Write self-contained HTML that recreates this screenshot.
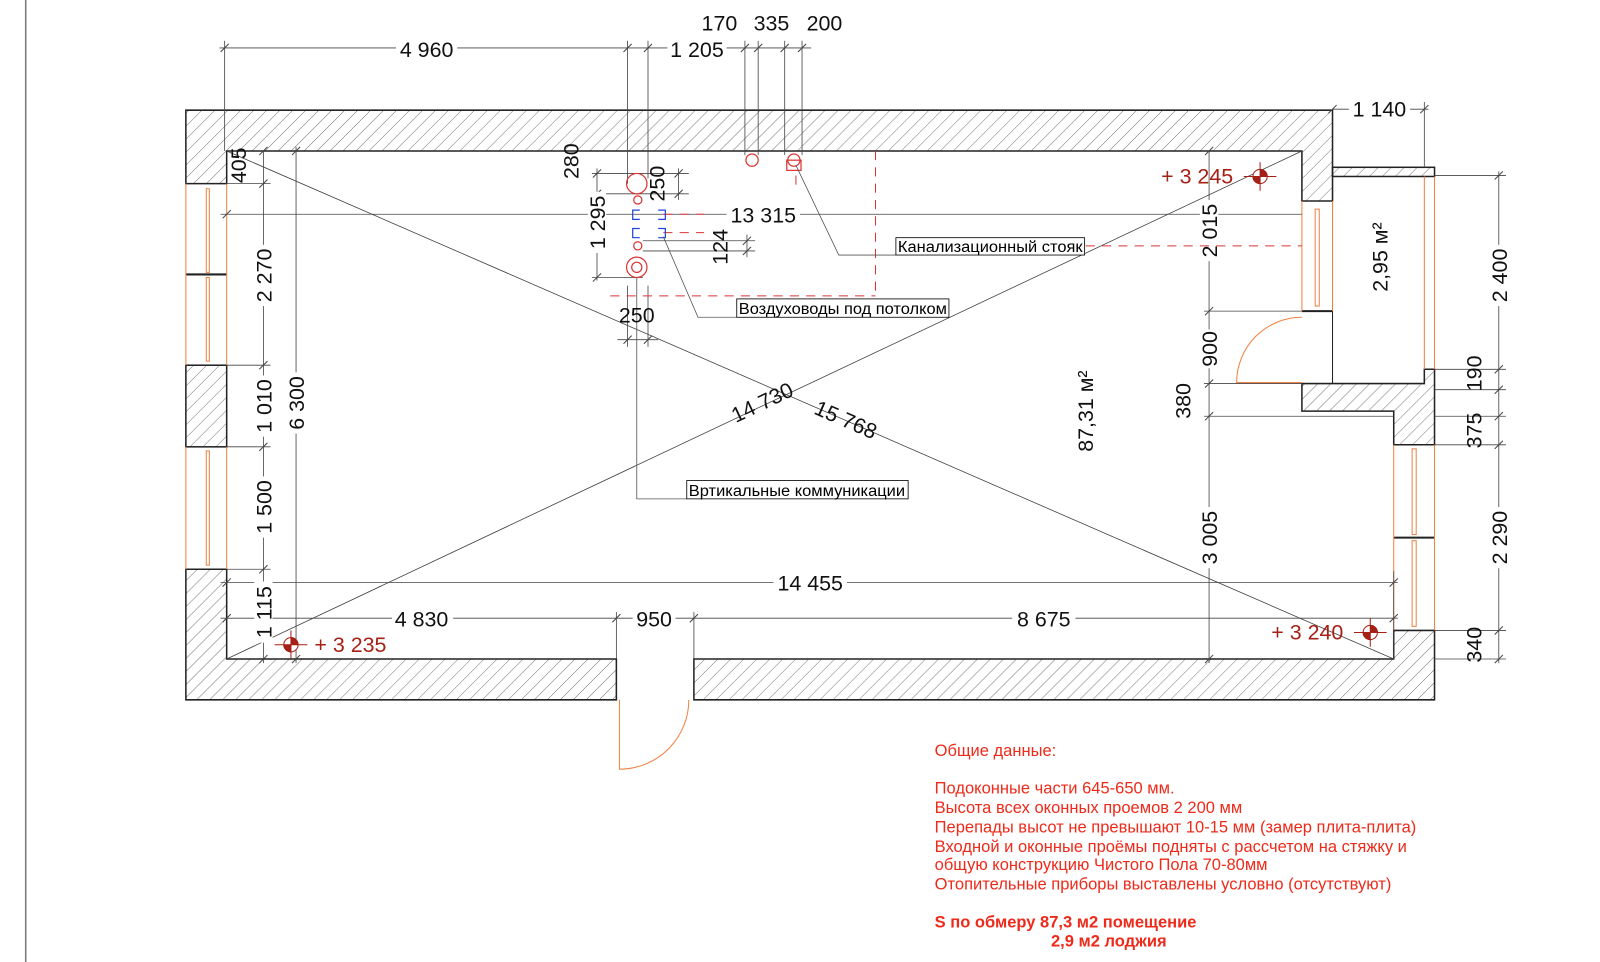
<!DOCTYPE html>
<html><head><meta charset="utf-8"><style>html,body{margin:0;padding:0;background:#fff}svg{display:block}</style></head>
<body>
<svg width="1600" height="962" viewBox="0 0 1568 943" xmlns="http://www.w3.org/2000/svg" font-family="Liberation Sans, sans-serif">
<defs>
<pattern id="h" patternUnits="userSpaceOnUse" width="9" height="9" patternTransform="rotate(45)"><line x1="0" y1="0" x2="0" y2="9" stroke="#555" stroke-width="0.8"/></pattern>
</defs>
<rect width="1568" height="943" fill="#fff"/>
<line x1="25" y1="0" x2="25" y2="943" stroke="#777" stroke-width="1.5"/>

<!-- walls -->
<g fill="url(#h)" stroke="#222" stroke-width="1.5">
<path d="M182,180 L182,108 L1306,108 L1306,197 L1276,197 L1276,148 L222,148 L222,180 Z"/>
<rect x="182" y="358" width="40" height="80"/>
<path d="M182,558 L222,558 L222,646 L604,646 L604,686 L182,686 Z"/>
<path d="M680,646 L1366,646 L1366,618 L1406,618 L1406,686 L680,686 Z"/>
<path d="M1276,376 L1396,376 L1396,362 L1406,362 L1406,436 L1366,436 L1366,403 L1276,403 Z"/>
<rect x="1306" y="164" width="100" height="9"/>
</g>
<line x1="1306" y1="173" x2="1306" y2="376" stroke="#222" stroke-width="1"/>
<line x1="182" y1="269" x2="222" y2="269" stroke="#222" stroke-width="2"/>
<line x1="1276" y1="305" x2="1306" y2="305" stroke="#222" stroke-width="2"/>
<line x1="1366" y1="527" x2="1406" y2="527" stroke="#222" stroke-width="2"/>

<!-- windows -->
<g stroke="#f08040" stroke-width="1" fill="none">
<line x1="182" y1="180" x2="182" y2="358"/><line x1="222" y1="180" x2="222" y2="358"/>
<rect x="202" y="185" width="3" height="82"/><rect x="202" y="272" width="3" height="82"/>
<line x1="182" y1="438" x2="182" y2="558"/><line x1="222" y1="438" x2="222" y2="558"/>
<rect x="202" y="442" width="3" height="112"/>
<line x1="1276" y1="197" x2="1276" y2="305"/><line x1="1306" y1="197" x2="1306" y2="305"/>
<rect x="1289" y="205" width="4" height="95"/>
<line x1="1396" y1="173" x2="1396" y2="362"/><line x1="1406" y1="173" x2="1406" y2="362"/>
<line x1="1366" y1="436" x2="1366" y2="618"/><line x1="1406" y1="436" x2="1406" y2="618"/>
<rect x="1384" y="440" width="4" height="84"/><rect x="1384" y="530" width="4" height="84"/>
<path d="M607,686 L607,754 A68,68 0 0 0 675,686"/>
<path d="M1276,375 L1212,375 A64,64 0 0 1 1276,311"/>
</g>

<!-- dimension lines -->
<g stroke="#444" stroke-width="0.8" fill="none">
<line x1="215" y1="47" x2="795" y2="47"/>
<line x1="220" y1="40" x2="220" y2="148"/><line x1="615" y1="40" x2="615" y2="180"/><line x1="635" y1="40" x2="635" y2="175"/>
<line x1="730" y1="40" x2="730" y2="152"/><line x1="743" y1="40" x2="743" y2="152"/><line x1="769" y1="40" x2="769" y2="152"/><line x1="786" y1="40" x2="786" y2="152"/>
<line x1="1306" y1="107" x2="1400" y2="107"/><line x1="1396" y1="100" x2="1396" y2="164"/>
<line x1="1469" y1="168" x2="1469" y2="650"/>
<line x1="1406" y1="172" x2="1476" y2="172"/><line x1="1406" y1="362" x2="1476" y2="362"/><line x1="1406" y1="382" x2="1476" y2="382"/>
<line x1="1406" y1="408" x2="1476" y2="408"/><line x1="1406" y1="436" x2="1476" y2="436"/><line x1="1406" y1="618" x2="1476" y2="618"/><line x1="1406" y1="646" x2="1476" y2="646"/>
<line x1="1185" y1="148" x2="1185" y2="650"/>
<line x1="1180" y1="305" x2="1276" y2="305"/><line x1="1180" y1="376" x2="1276" y2="376"/><line x1="1180" y1="408" x2="1366" y2="408"/>
<line x1="258" y1="148" x2="258" y2="650"/><line x1="290" y1="144" x2="290" y2="650"/>
<line x1="222" y1="180" x2="265" y2="180"/><line x1="222" y1="358" x2="265" y2="358"/><line x1="222" y1="438" x2="265" y2="438"/><line x1="222" y1="558" x2="265" y2="558"/>
<line x1="216" y1="210" x2="1276" y2="210"/>
<line x1="216" y1="571" x2="1370" y2="571"/>
<line x1="216" y1="606" x2="1370" y2="606"/><line x1="604" y1="600" x2="604" y2="646"/><line x1="680" y1="600" x2="680" y2="646"/><line x1="1366" y1="560" x2="1366" y2="646"/>
<line x1="585" y1="165" x2="585" y2="275"/>
<line x1="580" y1="170" x2="675" y2="170"/><line x1="580" y1="190" x2="675" y2="190"/>
<line x1="665" y1="165" x2="665" y2="196"/>
<line x1="580" y1="272" x2="630" y2="272"/>
<line x1="630" y1="236" x2="740" y2="236"/><line x1="630" y1="246" x2="740" y2="246"/><line x1="732" y1="230" x2="732" y2="252"/>
<line x1="615" y1="280" x2="615" y2="340"/><line x1="635" y1="280" x2="635" y2="340"/><line x1="605" y1="333" x2="645" y2="333"/>
<line x1="222" y1="148" x2="1366" y2="646"/>
<line x1="222" y1="646" x2="1276" y2="148"/>
</g>
<g stroke="#444" stroke-width="1">
<path d="M216,51 l8,-8 M611,51 l8,-8 M631,51 l8,-8 M726,51 l8,-8 M739,51 l8,-8 M765,51 l8,-8 M782,51 l8,-8 M1302,111 l8,-8 M1392,111 l8,-8
M1465,176 l8,-8 M1465,366 l8,-8 M1465,386 l8,-8 M1465,412 l8,-8 M1465,440 l8,-8 M1465,622 l8,-8 M1465,650 l8,-8
M1181,152 l8,-8 M1181,309 l8,-8 M1181,380 l8,-8 M1181,412 l8,-8 M1181,650 l8,-8
M254,184 l8,-8 M254,362 l8,-8 M254,442 l8,-8 M254,562 l8,-8 M254,650 l8,-8 M286,152 l8,-8 M286,650 l8,-8 M254,152 l8,-8
M218,214 l8,-8 M218,575 l8,-8 M1362,575 l8,-8 M218,610 l8,-8 M600,610 l8,-8 M676,610 l8,-8 M1362,610 l8,-8
M581,174 l8,-8 M581,194 l8,-8 M581,276 l8,-8 M661,174 l8,-8 M661,194 l8,-8 M728,240 l8,-8 M728,250 l8,-8 M611,337 l8,-8 M631,337 l8,-8"/>
</g>

<!-- white backgrounds behind dimension labels -->
<g fill="#fff">
<rect x="388" y="38" width="60" height="18"/><rect x="654" y="38" width="58" height="18"/>
<rect x="1322" y="98" width="60" height="18"/><rect x="712" y="201" width="72" height="18"/>
<rect x="758" y="562" width="72" height="18"/><rect x="384" y="597" width="60" height="18"/>
<rect x="620" y="597" width="42" height="18"/><rect x="992" y="597" width="62" height="18"/>
<rect x="1460" y="240" width="18" height="60"/><rect x="1460" y="497" width="18" height="60"/>
<rect x="1176" y="196" width="18" height="60"/><rect x="1176" y="323" width="18" height="38"/>
<rect x="1176" y="497" width="18" height="60"/>
<rect x="249" y="240" width="18" height="60"/><rect x="249" y="368" width="18" height="60"/>
<rect x="249" y="467" width="18" height="60"/><rect x="249" y="570" width="18" height="60"/>
<rect x="281" y="365" width="18" height="60"/><rect x="576" y="188" width="18" height="60"/>
</g>

<!-- communications -->
<g fill="none" stroke="#d33" stroke-width="1.2">
<circle cx="624" cy="180" r="10"/><circle cx="625" cy="196" r="4"/><circle cx="625" cy="241" r="4"/>
<circle cx="624" cy="262" r="10"/><circle cx="624" cy="262" r="5"/>
<circle cx="737" cy="157" r="6"/><circle cx="778" cy="157" r="6"/><rect x="771" y="157" width="14" height="10"/>
<g stroke-dasharray="9,7" stroke-width="1"><line x1="858" y1="148" x2="858" y2="290"/><line x1="598" y1="290" x2="858" y2="290"/>
<line x1="1064" y1="241" x2="1276" y2="241"/><line x1="650" y1="210" x2="690" y2="210"/><line x1="650" y1="228" x2="690" y2="228"/><line x1="780" y1="172" x2="780" y2="185"/></g>
</g>
<g fill="none" stroke="#2244dd" stroke-width="1.2">
<path d="M627,206 h-7 v9 h7 M645,206 h7 v9 h-7 M627,224 h-7 v9 h7 M645,224 h7 v9 h-7"/>
</g>

<!-- leaders and labels -->
<g stroke="#555" stroke-width="0.8" fill="none">
<polyline points="780,162 822,250 878,250"/>
<polyline points="650,232 684,311 722,311"/>
<polyline points="624,272 624,489 673,489"/>
</g>
<g font-size="15.5" fill="#000">
<rect x="878" y="233" width="185" height="17" fill="#fff" stroke="#000" stroke-width="0.8"/>
<text x="880" y="247" textLength="181" lengthAdjust="spacingAndGlyphs">Канализационный стояк</text>
<rect x="722" y="293" width="208" height="18" fill="#fff" stroke="#000" stroke-width="0.8"/>
<text x="724" y="308" textLength="204" lengthAdjust="spacingAndGlyphs">Воздуховоды под потолком</text>
<rect x="673" y="471" width="217" height="18" fill="#fff" stroke="#000" stroke-width="0.8"/>
<text x="675" y="486" textLength="212" lengthAdjust="spacingAndGlyphs">Вртикальные коммуникации</text>
</g>

<!-- dimension text -->
<g font-size="21" fill="#111" text-anchor="middle">
<text x="418" y="56">4 960</text>
<text x="683" y="56">1 205</text>
<text x="705" y="30">170</text><text x="756" y="30">335</text><text x="808" y="30">200</text>
<text x="1352" y="114">1 140</text>
<text x="748" y="218">13 315</text>
<text x="794" y="579">14 455</text>
<text x="413" y="614">4 830</text>
<text x="641" y="614">950</text>
<text x="1023" y="614">8 675</text>
<text x="624" y="316">250</text>
<text transform="translate(1477,270) rotate(-90)">2 400</text>
<text transform="translate(1452,366) rotate(-90)">190</text>
<text transform="translate(1452,422) rotate(-90)">375</text>
<text transform="translate(1477,527) rotate(-90)">2 290</text>
<text transform="translate(1452,632) rotate(-90)">340</text>
<text transform="translate(1193,226) rotate(-90)">2 015</text>
<text transform="translate(1193,342) rotate(-90)">900</text>
<text transform="translate(1167,393) rotate(-90)">380</text>
<text transform="translate(1193,527) rotate(-90)">3 005</text>
<text transform="translate(241,162) rotate(-90)">405</text>
<text transform="translate(266,270) rotate(-90)">2 270</text>
<text transform="translate(266,398) rotate(-90)">1 010</text>
<text transform="translate(266,497) rotate(-90)">1 500</text>
<text transform="translate(266,600) rotate(-90)">1 115</text>
<text transform="translate(298,395) rotate(-90)">6 300</text>
<text transform="translate(567,158) rotate(-90)">280</text>
<text transform="translate(651,180) rotate(-90)">250</text>
<text transform="translate(593,218) rotate(-90)">1 295</text>
<text transform="translate(713,242) rotate(-90)">124</text>
<text transform="translate(750,401) rotate(-25.3)">14 730</text>
<text transform="translate(826,418) rotate(23.5)">15 768</text>
<text transform="translate(1071,403) rotate(-90)">87,31 м²</text>
<text transform="translate(1360,252) rotate(-90)">2,95 м²</text>
</g>

<!-- level marks -->
<g font-size="21" fill="#a52015">
<text x="1138" y="180">+ 3 245</text>
<text x="308" y="639">+ 3 235</text>
<text x="1246" y="627">+ 3 240</text>
</g>
<g stroke="#a52015" stroke-width="1">
<g transform="translate(1235,173)"><line x1="-16" y1="0" x2="16" y2="0"/><line x1="0" y1="-14" x2="0" y2="14"/><circle r="7" fill="#fff"/><path d="M0,-7 A7,7 0 0 1 7,0 L0,0Z M0,7 A7,7 0 0 1 -7,0 L0,0Z" fill="#a52015"/></g>
<g transform="translate(285,632)"><line x1="-16" y1="0" x2="16" y2="0"/><line x1="0" y1="-14" x2="0" y2="14"/><circle r="7" fill="#fff"/><path d="M0,-7 A7,7 0 0 1 7,0 L0,0Z M0,7 A7,7 0 0 1 -7,0 L0,0Z" fill="#a52015"/></g>
<g transform="translate(1343,620)"><line x1="-16" y1="0" x2="16" y2="0"/><line x1="0" y1="-14" x2="0" y2="14"/><circle r="7" fill="#fff"/><path d="M0,-7 A7,7 0 0 1 7,0 L0,0Z M0,7 A7,7 0 0 1 -7,0 L0,0Z" fill="#a52015"/></g>
</g>

<!-- notes -->
<g font-size="16.2" fill="#ee2a1a">
<text x="916" y="741">Общие данные:</text>
<text x="916" y="778">Подоконные части 645-650 мм.</text>
<text x="916" y="797">Высота всех оконных проемов 2 200 мм</text>
<text x="916" y="816">Перепады высот не превышают 10-15 мм (замер плита-плита)</text>
<text x="916" y="835">Входной и оконные проёмы подняты с рассчетом на стяжку и</text>
<text x="916" y="853">общую конструкцию Чистого Пола 70-80мм</text>
<text x="916" y="872">Отопительные приборы выставлены условно (отсутствуют)</text>
<text x="916" y="909" font-weight="bold">S по обмеру  87,3 м2 помещение</text>
<text x="1030" y="928" font-weight="bold">2,9 м2 лоджия</text>
</g>
</svg>
</body></html>
